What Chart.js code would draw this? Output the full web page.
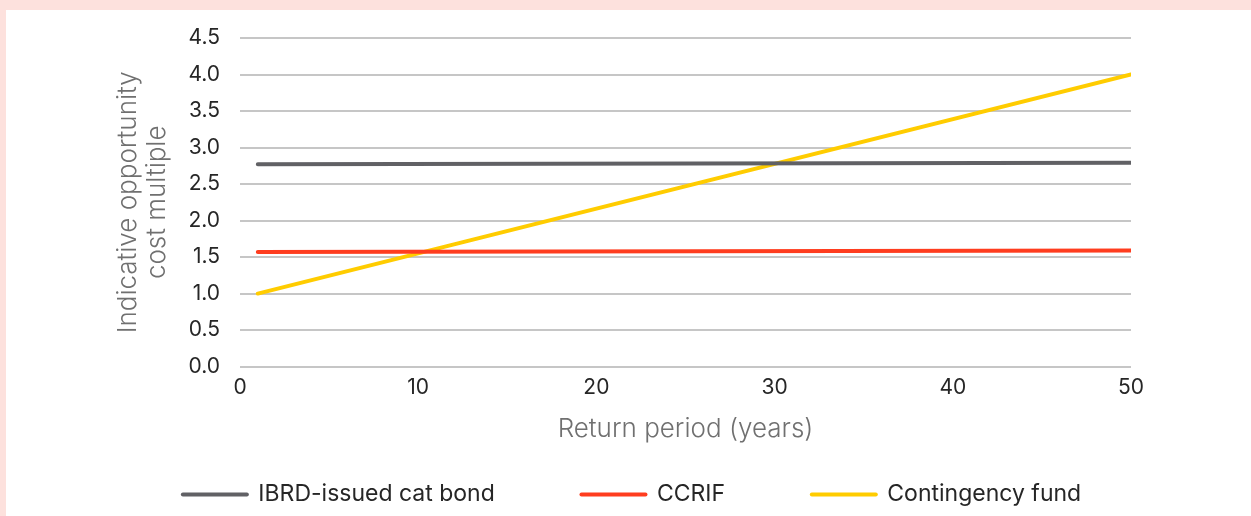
<!DOCTYPE html>
<html>
<head>
<meta charset="utf-8">
<script src="https://cdn.jsdelivr.net/npm/chart.js@4/dist/chart.umd.min.js"></script>
<style>
  html, body { margin: 0; padding: 0; background: #fde1dd; width: 1251px; height: 516px; overflow: hidden; }
  #frame { position: absolute; left: 6px; top: 10px; width: 1245px; height: 506px; background: #ffffff; }
  canvas { display: block; }
</style>
</head>
<body>
<div id="frame"><canvas id="chart" width="1245" height="506"></canvas></div>
<script>
// Return period (years) at each end of the series
const returnPeriods = [1, 50];

// Indicative opportunity cost multiple per instrument
const catBond = [2.77, 2.79];
const ccrif = [1.57, 1.59];
const contingencyFund = [1.0, 4.0];

const seriesNames = ['IBRD-issued cat bond', 'CCRIF', 'Contingency fund'];
const seriesColors = ['#616165', '#ff3d1f', '#ffcc00'];

const yTicks = [0, 0.5, 1, 1.5, 2, 2.5, 3, 3.5, 4, 4.5];
const xTicks = [0, 10, 20, 30, 40, 50];

const FONT = 'Inter, "DejaVu Sans", sans-serif';

function toPoints(values) {
  return values.map((v, i) => ({ x: returnPeriods[i], y: v }));
}

const datasets = [catBond, ccrif, contingencyFund].map((vals, i) => ({
  label: seriesNames[i],
  data: toPoints(vals),
  borderColor: seriesColors[i],
  backgroundColor: seriesColors[i],
  borderWidth: 4,
  borderCapStyle: 'round',
  pointRadius: 0,
  pointHoverRadius: 0,
  pointStyle: 'line',
  tension: 0
}));

// Extra gap between legend entries (added after every entry except the last)
const legendGap = '\u2003\u2003\u2003\u2004';

// Nudges the legend row sideways so it sits centred under the whole figure
const legendShift = {
  id: 'legendShift',
  afterLayout(chart) {
    const lg = chart.legend;
    if (lg) { lg.left += 11; lg.right += 11; }
  }
};

new Chart(document.getElementById('chart'), {
  type: 'line',
  data: { datasets },
  plugins: [legendShift],
  options: {
    responsive: false,
    animation: false,
    layout: { padding: { top: 28, right: 120, bottom: 0, left: 105 } },
    scales: {
      x: {
        type: 'linear',
        min: 0,
        max: 50,
        afterBuildTicks: (s) => { s.ticks = xTicks.map(v => ({ value: v })); },
        grid: { display: false, drawTicks: false },
        border: { display: false },
        ticks: { color: '#262626', font: { family: FONT, size: 21 }, padding: 8, maxRotation: 0 },
        title: {
          display: true,
          text: 'Return period (years)',
          color: '#707070',
          font: { family: FONT, size: 26, weight: 300, lineHeight: 1.2 },
          padding: { top: 6, bottom: 28 }
        }
      },
      y: {
        min: 0,
        max: 4.5,
        afterBuildTicks: (s) => { s.ticks = yTicks.map(v => ({ value: v })); },
        afterFit: (s) => {
          s.width = 129;
          // keep the wide label gap from inflating the space above the plot
          s.paddingTop = 12;
          s.paddingBottom = 12;
        },
        grid: { color: '#c6c6c6', lineWidth: 2, drawTicks: false },
        border: { display: false },
        ticks: {
          color: '#262626',
          font: { family: FONT, size: 21 },
          padding: 20,
          callback: (v) => Number(v).toFixed(1)
        },
        title: {
          display: true,
          text: ['Indicative opportunity', 'cost multiple'],
          color: '#707070',
          font: { family: FONT, size: 26, weight: 300, lineHeight: 1.115 },
          padding: { top: 3, bottom: 10 }
        }
      }
    },
    plugins: {
      tooltip: { enabled: false },
      legend: {
        position: 'bottom',
        labels: {
          usePointStyle: true,
          pointStyleWidth: 64,
          color: '#262626',
          font: { family: FONT, size: 23 },
          padding: 10,
          generateLabels: (chart) => {
            const base = Chart.defaults.plugins.legend.labels.generateLabels(chart);
            return base.map((item, i) => ({
              ...item,
              text: i < base.length - 1 ? item.text + legendGap : item.text,
              lineCap: 'round',
              lineWidth: 4
            }));
          }
        }
      }
    }
  }
});
</script>
</body>
</html>
